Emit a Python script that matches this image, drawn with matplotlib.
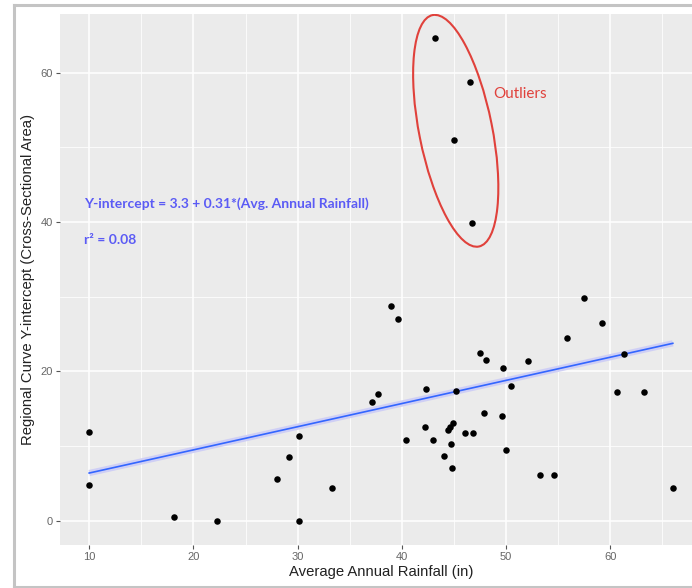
import numpy as np
import matplotlib
matplotlib.use('Agg')
import matplotlib.pyplot as plt
from matplotlib.patches import Ellipse
from matplotlib.lines import Line2D
from matplotlib.transforms import ScaledTranslation

# ── Data ──────────────────────────────────────────────────────────────────────
rainfall = [10.0, 10.0, 18.1, 22.3, 28.0, 29.2, 30.1, 30.1, 33.3,
            37.1, 37.7, 39.0, 39.6, 40.4, 42.2, 42.3, 43.0, 44.0, 44.4,
            44.6, 44.7, 44.8, 44.9, 45.2, 46.1, 46.8, 47.5, 47.9, 48.1,
            49.6, 49.7, 50.0, 50.5, 52.1, 53.3, 54.6, 55.8, 57.5, 59.2,
            60.6, 61.3, 63.2, 66.0,
            43.2, 46.5, 45.0, 46.7]
y_intercept = [11.9, 4.8, 0.5, 0.0, 5.6, 8.6, 11.4, 0.0, 4.4,
               15.9, 17.0, 28.8, 27.0, 10.8, 12.6, 17.7, 10.8, 8.7, 12.2,
               12.6, 10.3, 7.1, 13.1, 17.4, 11.7, 11.7, 22.4, 14.5, 21.5,
               14.1, 20.5, 9.5, 18.0, 21.4, 6.1, 6.1, 24.5, 29.8, 26.5,
               17.2, 22.3, 17.2, 4.4,
               64.6, 58.7, 51.0, 39.8]

# fitted line reported on the chart
fit_b0 = 3.3
fit_b1 = 0.31
r2 = 0.08

x_ticks = [10, 20, 30, 40, 50, 60]
y_ticks = [0, 20, 40, 60]

PANEL = '#ebebeb'
LINE_BLUE = '#3366ff'
TEXT_BLUE = '#5b5bf5'
RED = '#e0413b'

fig = plt.figure(figsize=(6.92, 5.88), dpi=100)
# panel runs off the right edge, as in the cropped screenshot
ax = fig.add_axes([60 / 692, 43 / 588, 642 / 692, 531 / 588])
ax.set_facecolor(PANEL)
for s in ax.spines.values():
    s.set_visible(False)

# ggplot-style 5% expansion
x = np.array(rainfall)
y = np.array(y_intercept)
xr = x.max() - x.min()
yr = y.max() - y.min()
ax.set_xlim(x.min() - 0.05 * xr, x.max() + 0.05 * xr)
ax.set_ylim(y.min() - 0.05 * yr, y.max() + 0.05 * yr)

# grid: minor halfway between majors
ax.set_xticks(x_ticks)
ax.set_yticks(y_ticks)
ax.set_xticks([15, 25, 35, 45, 55, 65], minor=True)
ax.set_yticks([10, 30, 50], minor=True)
ax.grid(True, which='major', color='white', lw=1.1)
ax.grid(True, which='minor', color='white', lw=0.55)
ax.set_axisbelow(True)
ax.tick_params(which='minor', length=0)
ax.tick_params(which='major', length=3, width=0.8, color='#555555',
               labelsize=8, labelcolor='#666666', pad=2)
for lab in ax.get_xticklabels() + ax.get_yticklabels():
    lab.set_family('Liberation Sans')

# ── Regression line with faint band ───────────────────────────────────────────
xs = np.array([x.min(), x.max()])
ys = fit_b0 + fit_b1 * xs
ax.plot(xs, ys, color='#cfcff5', lw=4.5, solid_capstyle='butt', zorder=2)
ax.plot(xs, ys, color=LINE_BLUE, lw=1.2, zorder=3)

ax.scatter(x, y, s=22, color='black', zorder=4, linewidths=0)

# ── Annotations ───────────────────────────────────────────────────────────────
ax.text(9.55, 42.4, f'Y-intercept = {fit_b0} + {fit_b1}*(Avg. Annual Rainfall)',
        color=TEXT_BLUE, fontsize=10, family='Lato', fontweight='bold',
        va='center', ha='left')
ax.text(9.55, 37.6, f'r\u00b2 = {r2:.2f}', color=TEXT_BLUE, fontsize=10,
        family='Lato', fontweight='bold', va='center', ha='left')

# outlier ring, sized in inches around a data-space centre
ring_tr = fig.dpi_scale_trans + ScaledTranslation(45.17, 52.2, ax.transData)
ax.add_patch(Ellipse((0, 0), 0.73, 2.36, angle=11.3, transform=ring_tr,
                     fill=False, ec=RED, lw=1.5, zorder=5))
ax.text(48.75, 57.1, 'Outliers', color=RED, fontsize=11, family='Lato',
        va='center', ha='left')

ax.set_xlabel('Average Annual Rainfall (in)', family='Liberation Sans',
              fontsize=10.7, color='#222222', labelpad=2)
ax.set_ylabel('Regional Curve Y-intercept (Cross-Sectional Area)',
              family='Liberation Sans', fontsize=10.7, color='#222222',
              labelpad=4)

# screenshot frame
frame = dict(color='#c4c4c4', lw=2.2, transform=fig.transFigure)
fig.add_artist(Line2D([14 / 692, 1], [1 - 5 / 588, 1 - 5 / 588], **frame))
fig.add_artist(Line2D([14 / 692, 14 / 692], [1 / 588, 1 - 5 / 588], **frame))
fig.add_artist(Line2D([14 / 692, 1], [1 / 588, 1 / 588], **frame))

fig.savefig('out.png', dpi=100)
